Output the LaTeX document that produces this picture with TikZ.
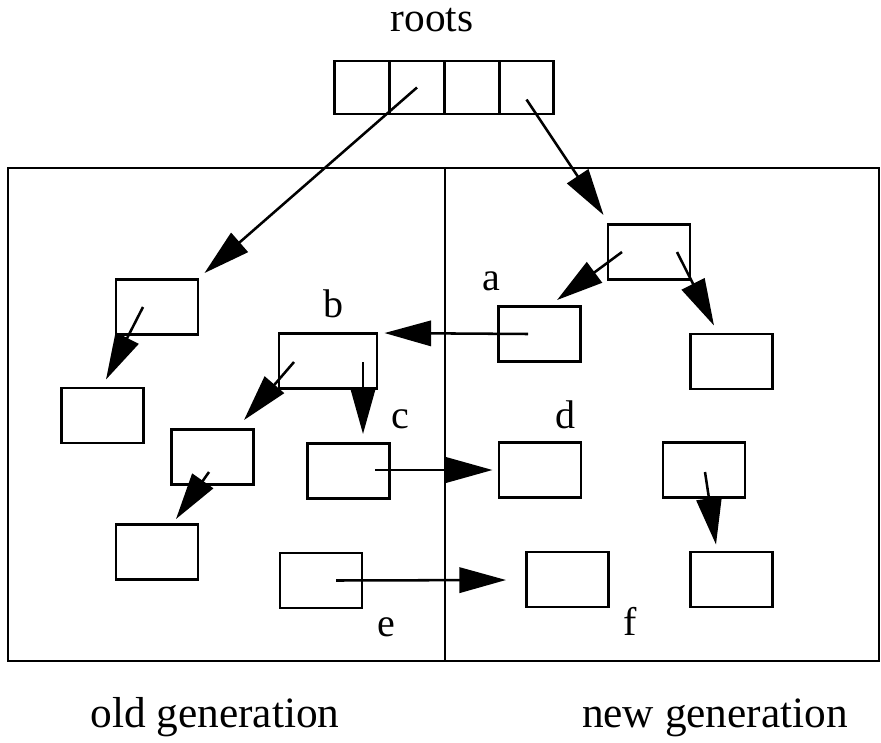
\documentclass[tikz,border=0pt]{standalone}
\usepackage{fontspec}
\setmainfont{Liberation Serif}
\usetikzlibrary{arrows.meta,calc}

\tikzset{
  obj/.style={draw, line width=2.2pt, inner sep=0pt,
    minimum width=61.5pt, minimum height=41.25pt},
  wide/.style={obj, minimum width=73.5pt},
  cell/.style={obj, minimum width=41.06pt, minimum height=39.75pt},
  ptr/.style={line width=1.9pt, -{Triangle[length=35pt,width=19pt]}},
  lbl/.style={font=\fontsize{30}{36}\selectfont, anchor=base, inner sep=0pt},
  caption/.style={font=\fontsize{31}{37}\selectfont, anchor=base, inner sep=0pt},
  gencap/.style={font=\fontsize{32.5}{39}\selectfont, anchor=base, inner sep=0pt}
}

\begin{document}
\begin{tikzpicture}[x=0.75pt,y=-0.75pt]
  \useasboundingbox (0,0) rectangle (881,742);

  % heap: old generation on the left, new generation on the right
  \draw[line width=2.2pt] (8,168) rectangle (879,661);
  \draw[line width=2.2pt] (445,168) -- (445,661);

  % root set
  \node[caption] (rootlbl) at (432,32) {roots};
  \foreach \i in {1,...,4}
    \node[cell] (r\i) at ({362.25+(\i-1)*54.75},87.5) {};

  % objects
  \node[obj]  (T)  at (649,252)   {};
  \node[obj]  (A)  at (539.5,334) {};
  \node[obj]  (R1) at (731.5,361.5) {};
  \node[wide] (B)  at (328,361)   {};
  \node[obj]  (L1) at (157,307)   {};
  \node[obj]  (L2) at (102.5,415.5) {};
  \node[obj]  (G)  at (212.5,457) {};
  \node[obj]  (H)  at (157,552)   {};
  \node[obj]  (C)  at (348.5,471) {};
  \node[obj]  (D)  at (540,470)   {};
  \node[obj]  (M)  at (704,470)   {};
  \node[obj]  (R2) at (731.5,579.5) {};
  \node[obj]  (E)  at (321,580.5) {};
  \node[obj]  (F)  at (567.5,579.5) {};

  % object labels
  \node[lbl] (la) at (491,290) {a};
  \node[lbl] (lb) at (333,317) {b};
  \node[lbl] (lc) at (400,428) {c};
  \node[lbl] (ld) at (565,428) {d};
  \node[lbl] (le) at (386,636) {e};
  \node[lbl] (lf) at (630,635) {f};

  % pointer sources (inside the referring object)
  \coordinate (s1)  at (r2.center);
  \coordinate (s2)  at ($(r4.center)+(0,12)$);
  \coordinate (s3)  at ($(T.center)+(-27,0)$);
  \coordinate (s4)  at ($(T.center)+(28,0)$);
  \coordinate (s5)  at ($(A.center)+(-11.5,0)$);
  \coordinate (s6)  at ($(L1.center)+(-14,0)$);
  \coordinate (s7)  at ($(B.center)+(-34,1)$);
  \coordinate (s8)  at ($(B.center)+(35,1)$);
  \coordinate (s9)  at ($(G.center)+(-3.5,15)$);
  \coordinate (s10) at ($(C.center)+(26.5,-1)$);
  \coordinate (s11) at ($(M.center)+(1,2)$);
  \coordinate (s12) at ($(E.center)+(15,0)$);

  % pointer targets (just outside the referenced object)
  \coordinate (t1)  at ($(L1.north east)+(5,-5)$);
  \coordinate (t2)  at ($(T.north west)+(-3,-8)$);
  \coordinate (t3)  at ($(A.north)+(17.5,-5)$);
  \coordinate (t4)  at ($(R1.north)+(-17.5,-7)$);
  \coordinate (t5)  at ($(B.north east)+(6,1)$);
  \coordinate (t6)  at ($(L2.north)+(3.5,-7)$);
  \coordinate (t7)  at ($(G.north)+(31.5,-8)$);
  \coordinate (t8)  at ($(C.north)+(14.5,-8)$);
  \coordinate (t9)  at ($(H.north)+(19,-4)$);
  \coordinate (t10) at ($(D.west)+(-5,0)$);
  \coordinate (t11) at ($(R2.north)+(-15.5,-6)$);
  \coordinate (t12) at ($(F.west)+(-19,0.5)$);

  \foreach \k in {1,...,12}
    \draw[ptr] (s\k) -- (t\k);

  % generation captions
  \node[gencap] (oldgen) at (215,727) {old generation};
  \node[gencap] (newgen) at (715,727) {new generation};
\end{tikzpicture}
\end{document}
